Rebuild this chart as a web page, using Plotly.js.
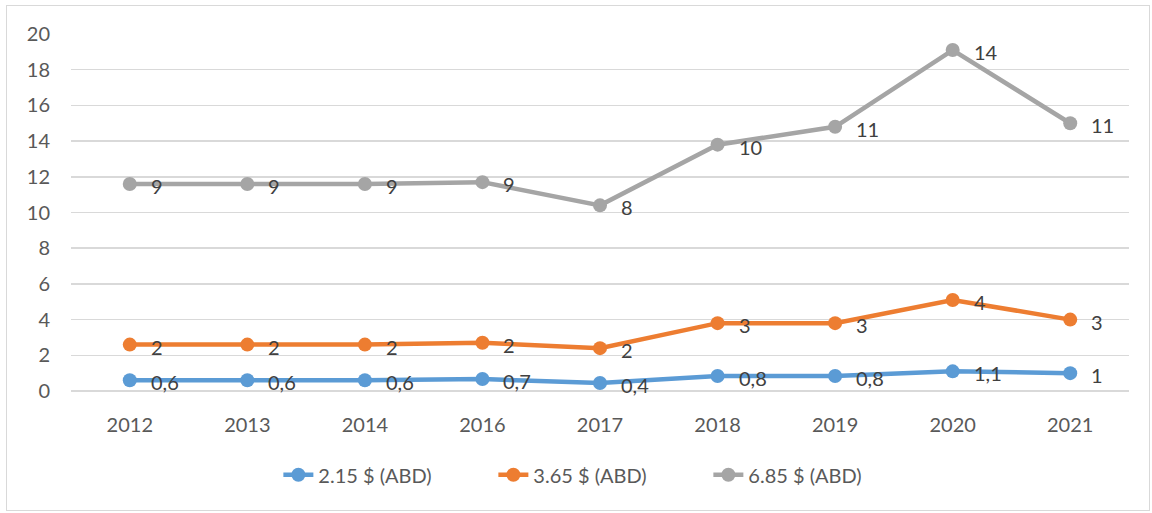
<!DOCTYPE html>
<html>
<head>
<meta charset="utf-8">
<script src="https://cdn.plot.ly/plotly-3.0.1.min.js"></script>
<style>
html,body{margin:0;padding:0;background:#fff;}
#wrap{position:relative;width:1152px;height:513px;}
#chart{width:1152px;height:513px;}
#frame{position:absolute;left:6px;top:5px;width:1142px;height:504px;border:1px solid #d9d9d9;pointer-events:none;}
</style>
</head>
<body>
<div id="wrap"><div id="chart"></div><div id="frame"></div></div>
<script>
const years = ["2012","2013","2014","2016","2017","2018","2019","2020","2021"];
const seriesNames = ["2.15 $ (ABD)","3.65 $ (ABD)","6.85 $ (ABD)"];
const blueValues = [0.6,0.6,0.6,0.67,0.45,0.84,0.84,1.1,1.0];
const orangeValues = [2.6,2.6,2.6,2.7,2.4,3.8,3.8,5.1,4.0];
const grayValues = [11.6,11.6,11.6,11.7,10.4,13.8,14.8,19.1,15.0];
const blueLabels = ["0,6","0,6","0,6","0,7","0,4","0,8","0,8","1,1","1"];
const orangeLabels = ["2","2","2","2","2","3","3","4","3"];
const grayLabels = ["9","9","9","9","8","10","11","14","11"];
const colors = ["#5b9bd5","#ed7d31","#a5a5a5"];

const FONT = "Lato, 'Open Sans', sans-serif";

function tr(name, y, color){
  return {
    type:"scatter", mode:"lines+markers", name:name,
    x:years, y:y,
    line:{color:color, width:4.5}, marker:{color:color, size:14},
    cliponaxis:false
  };
}
const data = [
  tr(seriesNames[0], blueValues, colors[0]),
  tr(seriesNames[1], orangeValues, colors[1]),
  tr(seriesNames[2], grayValues, colors[2])
];

const annotations = [];
[[blueValues, blueLabels],[orangeValues, orangeLabels],[grayValues, grayLabels]].forEach(function(p){
  years.forEach(function(yr, i){
    annotations.push({
      x: i, y: p[0][i], xref:"x", yref:"y", text: p[1][i],
      showarrow:false, xanchor:"left", yanchor:"middle",
      xshift:19, yshift:-2,
      font:{family:FONT, size:20, color:"#404040"}
    });
  });
});

const layout = {
  width:1152, height:513,
  margin:{l:71, r:23, t:34, b:122},
  paper_bgcolor:"#fff", plot_bgcolor:"#fff",
  font:{family:FONT, size:20, color:"#595959"},
  showlegend:true,
  legend:{orientation:"h", x:0.196, xanchor:"left", y:-0.18, yanchor:"top",
          font:{family:FONT, size:20, color:"#595959"},
          entrywidth:170, entrywidthmode:"pixels", traceorder:"normal"},
  annotations: annotations,
  xaxis:{type:"category", showgrid:false, zeroline:false, showline:false,
         ticks:"", tickfont:{size:20, color:"#595959"}, range:[-0.5,8.5], ticklabelstandoff:20},
  yaxis:{range:[0,20], dtick:2, showgrid:true, gridcolor:"#d9d9d9", gridwidth:1.5,
         zeroline:true, zerolinecolor:"#d9d9d9", zerolinewidth:1.5, showline:false,
         ticks:"", tickfont:{size:20, color:"#595959"}, ticklabelstandoff:20}
};
Plotly.newPlot("chart", data, layout, {displayModeBar:false, staticPlot:true});
</script>
</body>
</html>
